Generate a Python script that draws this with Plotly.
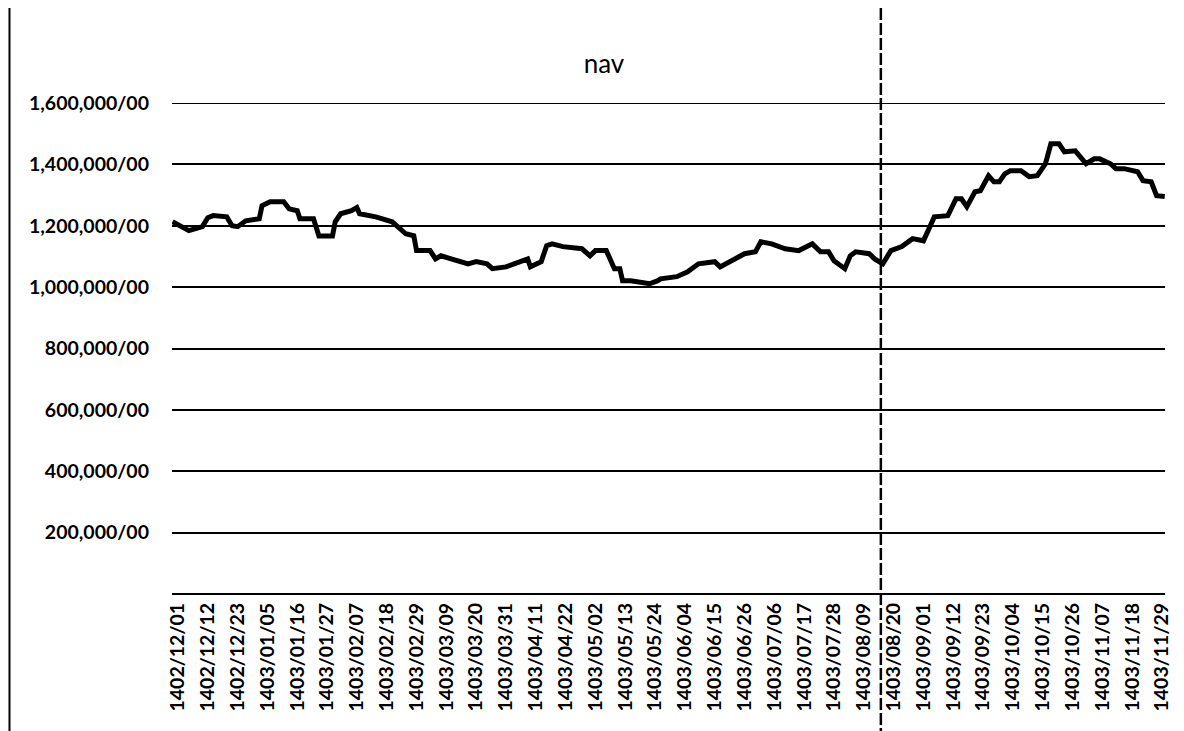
import plotly.graph_objects as go

# Tick labels (every 11 days on a daily category axis)
tick_labels = [
    "1402/12/01", "1402/12/12", "1402/12/23", "1403/01/05", "1403/01/16", "1403/01/27",
    "1403/02/07", "1403/02/18", "1403/02/29", "1403/03/09", "1403/03/20", "1403/03/31",
    "1403/04/11", "1403/04/22", "1403/05/02", "1403/05/13", "1403/05/24", "1403/06/04",
    "1403/06/15", "1403/06/26", "1403/07/06", "1403/07/17", "1403/07/28", "1403/08/09",
    "1403/08/20", "1403/09/01", "1403/09/12", "1403/09/23", "1403/10/04", "1403/10/15",
    "1403/10/26", "1403/11/07", "1403/11/18", "1403/11/29",
]
tick_days = [i * 11 for i in range(len(tick_labels))]

# NAV series: day index (from 1402/12/01) and value
day = [-2, 4, 9, 11, 13, 18, 20, 22, 25, 30, 31, 34, 39, 41, 44, 45, 50, 51, 52, 57,
       58, 60, 64, 66, 67, 73, 79, 82, 84, 87, 88, 93, 95, 97, 101, 107, 110, 114, 116, 121,
       124, 129, 130, 132, 134, 136, 138, 142, 149, 152, 154, 158, 160, 161, 163, 164, 167, 174, 177, 178,
       184, 188, 192, 198, 200, 204, 209, 213, 215, 219, 224, 229, 234, 237, 240, 242, 246, 248, 250, 255,
       257, 260, 263, 267, 271, 275, 279, 284, 287, 289, 291, 294, 296, 299, 301, 303, 305, 307, 311, 314,
       317, 320, 322, 325, 327, 331, 335, 338, 340, 344, 346, 349, 354, 356, 359, 361, 364]
nav = [1213000, 1184000, 1197000, 1226000, 1233000, 1229000, 1200000, 1197000, 1216000, 1223000,
       1265000, 1278000, 1278000, 1255000, 1249000, 1223000, 1223000, 1197000, 1167000, 1167000,
       1213000, 1239000, 1249000, 1259000, 1239000, 1229000, 1213000, 1190000, 1174000, 1167000,
       1119000, 1119000, 1092000, 1102000, 1092000, 1076000, 1083000, 1076000, 1060000, 1066000,
       1076000, 1092000, 1066000, 1076000, 1083000, 1135000, 1141000, 1132000, 1125000, 1102000,
       1119000, 1119000, 1083000, 1060000, 1060000, 1021000, 1021000, 1011000, 1021000, 1027000,
       1034000, 1050000, 1076000, 1083000, 1066000, 1086000, 1109000, 1115000, 1148000, 1141000,
       1125000, 1119000, 1141000, 1115000, 1115000, 1086000, 1060000, 1102000, 1115000, 1109000,
       1092000, 1076000, 1119000, 1132000, 1158000, 1151000, 1229000, 1233000, 1288000, 1288000,
       1262000, 1311000, 1314000, 1363000, 1343000, 1343000, 1369000, 1379000, 1379000, 1360000,
       1363000, 1402000, 1467000, 1467000, 1441000, 1444000, 1402000, 1418000, 1418000, 1402000,
       1386000, 1386000, 1376000, 1347000, 1343000, 1298000, 1295000]

y_ticks = [200000, 400000, 600000, 800000, 1000000, 1200000, 1400000, 1600000]
y_tick_labels = ["200,000/00", "400,000/00", "600,000/00", "800,000/00",
                 "1,000,000/00", "1,200,000/00", "1,400,000/00", "1,600,000/00"]

FONT = "Lato"

fig = go.Figure()
fig.add_trace(go.Scatter(x=day, y=nav, mode="lines",
                         line=dict(color="black", width=5), showlegend=False,
                         name="nav"))

# page body adds an 8px offset; figure is sized to compensate
OFF = 8
W, H = 1184 - OFF, 731 - OFF
L, R, T, B = 172 - OFF, 16, 103 - OFF, 731 - 594
pw, ph = W - L - R, H - T - B

def px_x(x):
    return (x - OFF - L) / pw

def px_y(y):
    return (H - B - (y - OFF)) / ph

tick_font = dict(family=FONT, size=19.5, color="black", weight="bold")

fig.update_layout(
    width=W, height=H,
    margin=dict(l=L, r=R, t=T, b=B),
    paper_bgcolor="white", plot_bgcolor="white",
    title=dict(text="nav", x=(604 - OFF) / W, xref="container", xanchor="center",
               y=1 - (64 - OFF) / H, yref="container", yanchor="middle",
               font=dict(family=FONT, size=26, color="black")),
    font=dict(family=FONT, color="black"),
    xaxis=dict(range=[-2.2, 364.1], tickmode="array", tickvals=tick_days,
               ticktext=tick_labels, tickangle=-90, showgrid=False,
               zeroline=False, showline=False, ticks="",
               tickfont=tick_font, ticklabelstandoff=4),
    yaxis=dict(range=[0, 1600000], tickmode="array", tickvals=y_ticks,
               ticktext=y_tick_labels, showgrid=True, gridcolor="black",
               gridwidth=2, zeroline=True, zerolinecolor="black", zerolinewidth=2,
               showline=False, ticks="",
               tickfont=tick_font, ticklabelstandoff=22),
    shapes=[
        dict(type="line", xref="paper", yref="y", x0=0, x1=1, y0=1600000, y1=1600000,
             line=dict(color="black", width=2)),
        # scanned-page vertical fold line
        dict(type="line", xref="paper", yref="paper", x0=px_x(883), x1=px_x(883),
             y0=px_y(OFF), y1=px_y(731), line=dict(color="black", width=2.5, dash="12px,3px")),
        # left page edge
        dict(type="line", xref="paper", yref="paper", x0=px_x(9), x1=px_x(9),
             y0=px_y(OFF), y1=px_y(731), line=dict(color="black", width=2)),
    ],
)

fig.write_html("out.html")
